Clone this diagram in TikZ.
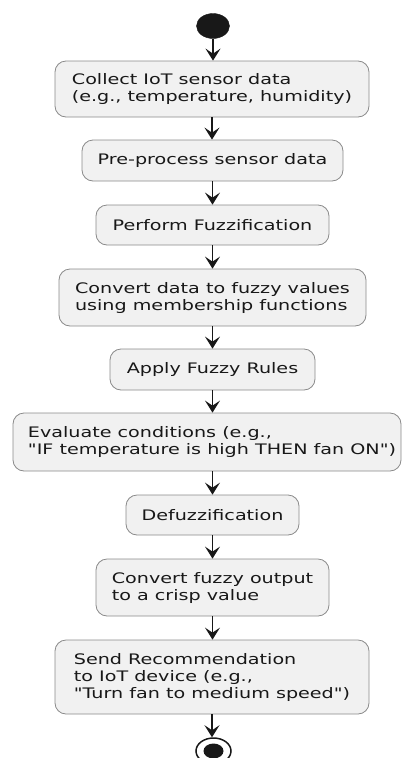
\documentclass[tikz,border=0pt]{standalone}
\usepackage{fontspec}
\usetikzlibrary{arrows.meta,shapes.geometric}
\newfontfamily\dvs[FakeStretch=1.32]{DejaVu Sans}
\definecolor{boxfill}{HTML}{F1F1F1}
\definecolor{boxline}{HTML}{8A8A8A}
\definecolor{ink}{HTML}{181818}
\begin{document}
\begin{tikzpicture}[x=1pt,y=-1pt,
  actbox/.style={draw=boxline, line width=0.8pt, fill=boxfill, rounded corners=11pt,
    inner sep=0pt, align=left, text=ink, font=\dvs\fontsize{14.5}{17}\selectfont},
  flow/.style={draw=ink, line width=1.3pt, -{Stealth[length=12pt,width=15pt,inset=5pt]}},
  startdot/.style={ellipse, fill=ink, draw=ink, inner sep=0pt, minimum width=33pt, minimum height=25pt},
  endring/.style={ellipse, draw=ink, line width=1.5pt, fill=white, inner sep=0pt, minimum width=35pt, minimum height=26pt},
  enddot/.style={ellipse, fill=ink, inner sep=0pt, minimum width=20pt, minimum height=15pt}]
\useasboundingbox (0,0) rectangle (403,758);
\node[startdot] (s) at (213,26) {};
\node[actbox, minimum width=314pt, minimum height=56pt] (b1) at (212,89) {Collect IoT sensor data\\(e.g., temperature, humidity)};
\node[actbox, minimum width=261pt, minimum height=41pt] (b2) at (212.5,160.5) {Pre-process sensor data};
\node[actbox, minimum width=233pt, minimum height=40pt] (b3) at (212.5,225) {Perform Fuzzification};
\node[actbox, minimum width=307pt, minimum height=57pt] (b4) at (212.5,297.5) {Convert data to fuzzy values\\using membership functions};
\node[actbox, minimum width=205pt, minimum height=41pt] (b5) at (212.5,369.5) {Apply Fuzzy Rules};
\node[actbox, minimum width=388pt, minimum height=58pt] (b6) at (207,442) {\hspace*{10pt}Evaluate conditions (e.g.,\\\hspace*{10pt}"IF temperature is high THEN fan ON")};
\node[actbox, minimum width=173pt, minimum height=40pt] (b7) at (212.5,515) {Defuzzification};
\node[actbox, minimum width=233pt, minimum height=57pt] (b8) at (212.5,587.5) {Convert fuzzy output\\to a crisp value};
\node[actbox, minimum width=314pt, minimum height=74pt] (b9) at (212,677) {Send Recommendation\\to IoT device (e.g.,\\"Turn fan to medium speed")};
\node[endring] (e) at (213.5,751) {};
\node[enddot] (ed) at (e.center) {};
\draw[flow] (s.south) -- (s.south |- b1.north);
\draw[flow] (b1.south) -- (b1.south |- b2.north);
\draw[flow] (b2.south) -- (b2.south |- b3.north);
\draw[flow] (b3.south) -- (b3.south |- b4.north);
\draw[flow] (b4.south) -- (b4.south |- b5.north);
\draw[flow] (b5.south) -- (b5.south |- b6.north);
\draw[flow] (b5.south |- b6.south) -- (b5.south |- b7.north);
\draw[flow] (b7.south) -- (b7.south |- b8.north);
\draw[flow] (b8.south) -- (b8.south |- b9.north);
\draw[flow] (b9.south) -- (b9.south |- e.north);
\end{tikzpicture}
\end{document}
